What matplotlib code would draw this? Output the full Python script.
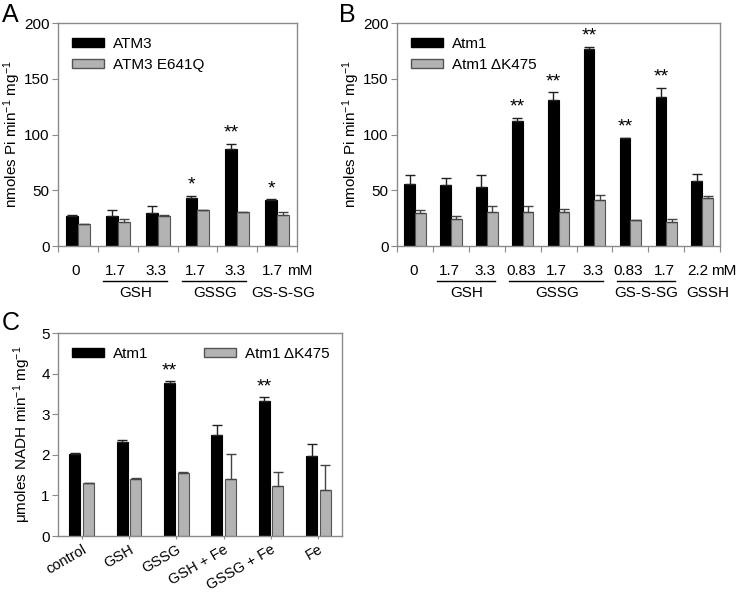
import numpy as np
import matplotlib
matplotlib.use("Agg")
import matplotlib.pyplot as plt
from matplotlib.patches import Patch
from matplotlib.transforms import blended_transform_factory

plt.rcParams["font.family"] = ["Liberation Sans", "DejaVu Sans"]
plt.rcParams["mathtext.fontset"] = "custom"
plt.rcParams["mathtext.rm"] = "Liberation Sans"
plt.rcParams["mathtext.it"] = "Liberation Sans:italic"

# ===========================
# Datos del panel A
# ===========================
a_conc = ["0", "1.7", "3.3", "1.7", "3.3", "1.7"]
a_groups = [("GSH", 1, 2), ("GSSG", 3, 4), ("GS-S-SG", 5, 5)]
a_wt = [27, 27, 30, 43, 87, 41]
a_wt_err = [1, 5, 6, 2, 5, 1]
a_mut = [20, 22, 27, 32, 31, 28]
a_mut_err = [0, 2, 1, 0, 0, 3]
a_stars = ["", "", "", "*", "**", "*"]

# ===========================
# Datos del panel B
# ===========================
b_conc = ["0", "1.7", "3.3", "0.83", "1.7", "3.3", "0.83", "1.7", "2.2"]
b_groups = [("GSH", 1, 2), ("GSSG", 3, 5), ("GS-S-SG", 6, 7), ("GSSH", 8, 8)]
b_wt = [56, 55, 53, 112, 131, 177, 97, 134, 58]
b_wt_err = [8, 6, 11, 3, 7, 2, 0, 8, 7]
b_mut = [30, 24, 31, 31, 31, 41, 23, 22, 43]
b_mut_err = [2, 3, 5, 5, 2, 5, 0, 2, 2]
b_stars = ["", "", "", "**", "**", "**", "**", "**", ""]

# ===========================
# Datos del panel C
# ===========================
c_labels = ["control", "GSH", "GSSG", "GSH + Fe", "GSSG + Fe", "Fe"]
c_wt = [2.03, 2.32, 3.78, 2.50, 3.33, 1.96]
c_wt_err = [0.02, 0.04, 0.04, 0.23, 0.10, 0.30]
c_mut = [1.30, 1.40, 1.56, 1.40, 1.23, 1.14]
c_mut_err = [0.0, 0.03, 0.02, 0.62, 0.35, 0.62]
c_stars = ["", "", "**", "", "**", ""]

BLACK = "#000000"
GRAY = "#b3b3b3"
SPINE = "#8a8a8a"


def estilo_ejes(ax, ymax, ystep):
    for s in ax.spines.values():
        s.set_color(SPINE)
        s.set_linewidth(1.0)
    ax.set_ylim(0, ymax)
    ax.set_yticks(np.arange(0, ymax + ystep / 2, ystep))
    ax.tick_params(axis="y", direction="out", length=4, color=SPINE, labelsize=11, pad=2)


def barras(ax, wt, wt_err, mut, mut_err, stars, off, width, star_pad):
    x = np.arange(len(wt))
    z = np.zeros(len(wt))
    ax.bar(x - off, wt, width, color=BLACK, edgecolor=BLACK, linewidth=0.8,
           yerr=[z, wt_err], error_kw=dict(ecolor="#222222", elinewidth=1, capsize=3.5, capthick=1), zorder=2)
    ax.bar(x + off, mut, width, color=GRAY, edgecolor="#555555", linewidth=0.8,
           yerr=[z, mut_err], error_kw=dict(ecolor="#444444", elinewidth=1, capsize=3.5, capthick=1), zorder=2)
    for xi, v, e, s in zip(x, wt, wt_err, stars):
        if s:
            ax.text(xi - off, v + e + star_pad, s, ha="center", va="bottom", fontsize=14)
    ax.set_xlim(-0.5, len(wt) - 0.5)
    return x


def etiquetas_grupos(ax, conc, groups):
    n = len(conc)
    tr = blended_transform_factory(ax.transData, ax.transAxes)
    ax.set_xticks(np.arange(n + 1) - 0.5)
    ax.set_xticklabels([])
    ax.tick_params(axis="x", direction="out", length=4, color=SPINE)
    for i, c in enumerate(conc):
        xi = i - 0.12 if i == n - 1 else i - 0.05
        ax.text(xi, -0.11, c, transform=tr, ha="center", va="center", fontsize=11)
    ax.text(n - 1 + 0.25, -0.11, "mM", transform=tr, ha="left", va="center", fontsize=11)
    for name, i0, i1 in groups:
        if i1 > i0:
            ax.plot([i0 - 0.38, i1 + 0.23], [-0.155, -0.155], transform=tr, color="black",
                    linewidth=1, clip_on=False)
            xn = (i0 + i1) / 2 - 0.05
        else:
            xn = i0 + 0.16
        ax.text(xn, -0.21, name, transform=tr, ha="center", va="center", fontsize=11)


def leyenda(ax, labels, **kw):
    handles = [Patch(facecolor=BLACK, edgecolor=BLACK, label=labels[0]),
               Patch(facecolor=GRAY, edgecolor="#555555", label=labels[1])]
    ax.legend(handles=handles, loc="upper left", frameon=False, fontsize=11,
              handlelength=2.1, handleheight=0.6, handletextpad=0.6,
              bbox_to_anchor=(0.0, 1.0), labelspacing=0.45, **kw)


fig = plt.figure(figsize=(7.45, 5.93), dpi=100)

# --- Panel A ---
axA = fig.add_axes([0.0779, 0.585, 0.3208, 0.376])
estilo_ejes(axA, 200, 50)
barras(axA, a_wt, a_wt_err, a_mut, a_mut_err, a_stars, 0.15, 0.3, 2)
etiquetas_grupos(axA, a_conc, a_groups)
axA.set_ylabel("nmoles Pi min$^{-1}$ mg$^{-1}$", fontsize=11, labelpad=1)
leyenda(axA, ["ATM3", "ATM3 E641Q"])
fig.text(0.003, 0.995, "A", fontsize=18, ha="left", va="top")

# --- Panel B ---
axB = fig.add_axes([0.533, 0.585, 0.4336, 0.376])
estilo_ejes(axB, 200, 50)
barras(axB, b_wt, b_wt_err, b_mut, b_mut_err, b_stars, 0.15, 0.3, 2)
etiquetas_grupos(axB, b_conc, b_groups)
axB.set_ylabel("nmoles Pi min$^{-1}$ mg$^{-1}$", fontsize=11, labelpad=1)
leyenda(axB, ["Atm1", "Atm1 ΔK475"])
fig.text(0.455, 0.995, "B", fontsize=18, ha="left", va="top")

# --- Panel C ---
axC = fig.add_axes([0.0779, 0.0961, 0.3812, 0.3423])
estilo_ejes(axC, 5, 1)
x = barras(axC, c_wt, c_wt_err, c_mut, c_mut_err, c_stars, 0.145, 0.235, 0.03)
axC.set_xticks(x)
axC.set_xticklabels(c_labels, rotation=30, ha="right", rotation_mode="anchor", fontsize=10.5)
axC.tick_params(axis="x", direction="out", length=2.5, color=SPINE, pad=2)
axC.set_ylabel("μmoles NADH min$^{-1}$ mg$^{-1}$", fontsize=11, labelpad=6)
leyenda(axC, ["Atm1", "Atm1 ΔK475"], ncol=2, columnspacing=3.6)
fig.text(0.003, 0.475, "C", fontsize=18, ha="left", va="top")

fig.savefig("out.png", dpi=100)
